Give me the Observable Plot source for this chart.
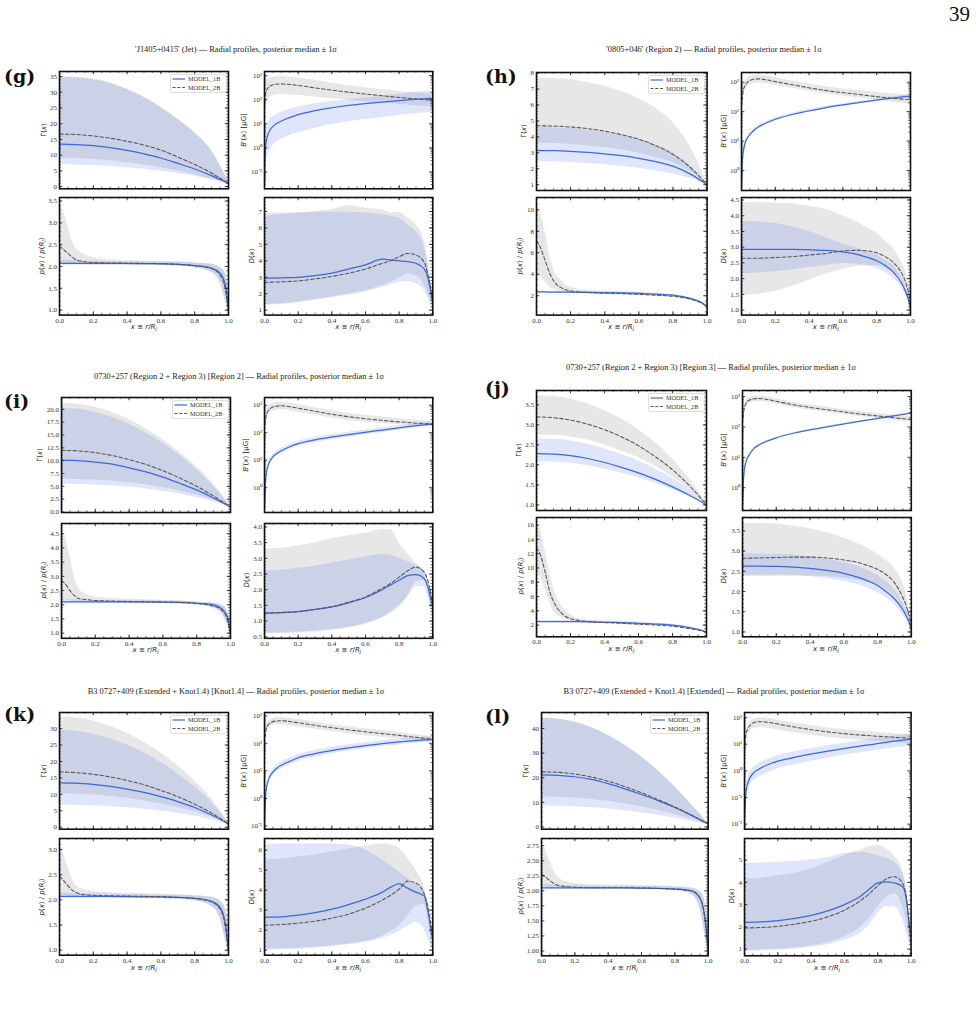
<!DOCTYPE html>
<html><head><meta charset="utf-8">
<script src="https://cdn.jsdelivr.net/npm/d3@7"></script>
<script src="https://cdn.jsdelivr.net/npm/@observablehq/plot@0.6"></script>
<style>
body{margin:0;background:#fff;}
#page{position:relative;width:976px;height:1013px;overflow:hidden;font-family:"Liberation Serif",serif;color:#222;}
.abs{position:absolute;white-space:nowrap;line-height:1;}
.title{font-size:8.4px;transform:translate(-50%,-50%);color:#222;}
.letter{font-family:"DejaVu Serif",serif;font-weight:bold;font-size:19px;transform:translate(0,-50%);color:#111;}
.ylab{font-family:"DejaVu Sans",sans-serif;font-size:7px;transform:translate(-50%,-50%) rotate(-90deg);color:#222;}
.xlab{font-family:"DejaVu Sans",sans-serif;font-size:7px;transform:translate(-50%,-50%);color:#222;}
sub{font-size:70%;vertical-align:-0.3em;line-height:0;}
.pagenum{font-size:21px;right:6px;top:4px;color:#111;}
</style></head>
<body><div id="page"></div>
<script>
// ---------- x grids ----------
const XG = [0,0.1,0.2,0.3,0.4,0.5,0.6,0.7,0.8,0.9,1.0];
const XB = [0,0.005,0.01,0.02,0.04,0.07,0.1,0.15,0.2,0.3,0.5,0.7,0.85,1.0];
const XP = [0,0.02,0.05,0.08,0.1,0.15,0.2,0.3,0.5,0.7,0.8,0.9,0.95,0.98,1.0];
const XD = [0,0.1,0.2,0.3,0.4,0.5,0.6,0.7,0.75,0.8,0.85,0.9,0.95,0.97,0.99,1.0];
const XTICKS = [0,0.2,0.4,0.6,0.8,1.0];
const SERIES = ["MODEL_1B","MODEL_2B"];

// ---------- (g) 'J1405+0415' (Jet) ----------
const g_G_1B = {med:[13.5,13.38,13.0,12.38,11.5,10.4,9.1,7.4,5.6,3.5,1.0], lo:[7.0,6.9,6.7,6.4,6.0,5.5,4.9,4.2,3.3,2.2,0.9], hi:[34.8,34.6,34.0,32.8,30.8,28.3,25.1,21.3,17.0,11.3,1.4]};
const g_G_2B = {med:[16.7,16.55,16.1,15.4,14.4,13.2,11.6,9.4,7.0,4.3,1.0], lo:[9.0,8.9,8.6,8.2,7.6,6.9,6.0,5.0,3.8,2.4,1.0], hi:[35.0,34.8,34.2,33.0,31.0,28.5,25.3,21.5,17.2,11.5,1.5]};
const g_B_1B = {med:[0.03,0.8,1.8,3.5,6.5,10,13,18,24,35,58,80,98,115], lo:[0.02,0.1,0.25,0.5,1.0,1.7,2.3,3.2,4.2,6.5,12,18,24,30], hi:[0.05,3,6,10,17,24,30,40,50,68,100,140,185,240]};
const g_B_2B = {med:[80,150,220,300,390,440,450,430,390,310,205,145,115,95], lo:[15,40,70,100,140,160,165,160,150,130,95,72,60,50], hi:[200,400,550,700,850,920,930,880,800,620,380,260,205,170]};
const g_P_1B = {med:[2.07,2.07,2.07,2.07,2.07,2.07,2.07,2.07,2.065,2.05,2.02,1.96,1.85,1.6,1.0], lo:[2.03,2.03,2.03,2.03,2.03,2.03,2.03,2.03,2.025,2.01,1.97,1.88,1.68,1.3,0.95], hi:[2.15,2.15,2.14,2.13,2.13,2.12,2.12,2.11,2.11,2.1,2.08,2.05,1.98,1.85,1.5]};
const g_P_2B = {med:[2.47,2.4,2.3,2.2,2.15,2.11,2.09,2.08,2.07,2.05,2.02,1.95,1.8,1.5,1.0], lo:[2.08,2.07,2.06,2.05,2.05,2.04,2.04,2.04,2.03,2.01,1.97,1.85,1.6,1.2,0.95], hi:[3.45,3.3,2.9,2.55,2.4,2.27,2.2,2.15,2.12,2.1,2.08,2.05,1.98,1.85,1.5]};
const g_D_1B = {med:[2.95,2.97,3.0,3.1,3.25,3.5,3.75,4.1,4.05,4.0,3.95,3.85,3.5,3.0,2.0,1.4], lo:[1.3,1.35,1.45,1.6,1.75,1.9,2.1,2.4,2.55,2.7,2.75,2.6,2.2,1.8,1.3,1.0], hi:[6.9,6.9,6.92,6.94,6.95,6.95,6.9,6.8,6.7,6.6,6.2,5.8,4.8,3.8,2.4,1.5]};
const g_D_2B = {med:[2.7,2.72,2.78,2.9,3.05,3.25,3.5,3.85,4.0,4.25,4.45,4.35,3.9,3.2,2.2,1.5], lo:[1.35,1.4,1.5,1.65,1.8,2.0,2.2,2.5,2.7,2.95,3.2,3.1,2.5,2.0,1.4,1.05], hi:[6.7,6.8,6.9,7.0,7.1,7.35,7.2,7.1,6.9,6.95,6.6,6.2,5.2,4.2,2.6,1.6]};

// ---------- (h) '0805+046' (Region 2) ----------
const h_G_1B = {med:[3.15,3.14,3.1,3.03,2.94,2.82,2.66,2.45,2.17,1.68,1.0], lo:[2.45,2.44,2.4,2.34,2.26,2.16,2.03,1.87,1.67,1.4,1.0], hi:[4.6,4.58,4.52,4.42,4.28,4.1,3.85,3.5,3.0,2.2,1.0]};
const h_G_2B = {med:[4.7,4.68,4.62,4.52,4.36,4.14,3.85,3.45,2.9,2.1,1.0], lo:[3.6,3.58,3.53,3.45,3.33,3.18,2.98,2.72,2.38,1.85,1.0], hi:[7.7,7.67,7.58,7.42,7.18,6.85,6.4,5.8,4.9,3.4,1.1]};
const h_B_1B = {med:[0.3,2,4,8,14,22,30,42,55,80,137,205,270,340], lo:[0.25,1.7,3.4,6.8,12,19,26,37,48,71,122,184,243,306], hi:[0.35,2.3,4.6,9.2,16,25,34,47,62,89,152,226,297,374]};
const h_B_2B = {med:[150,300,500,750,1050,1250,1300,1200,1050,820,520,380,300,255], lo:[100,200,340,520,760,900,950,880,780,620,400,290,225,175], hi:[220,450,700,1050,1450,1700,1750,1620,1420,1100,700,510,420,360]};
const h_P_1B = {med:[2.35,2.35,2.35,2.34,2.34,2.33,2.33,2.31,2.27,2.15,2.05,1.75,1.5,1.25,1.0], lo:[2.28,2.28,2.28,2.27,2.27,2.26,2.26,2.24,2.2,2.08,1.98,1.68,1.43,1.2,0.97], hi:[2.42,2.42,2.42,2.41,2.41,2.4,2.4,2.38,2.34,2.22,2.12,1.82,1.57,1.3,1.03]};
const h_P_2B = {med:[7.1,6.6,5.3,4.0,3.4,2.7,2.45,2.3,2.2,2.05,1.95,1.7,1.45,1.2,1.0], lo:[4.0,3.8,3.3,2.8,2.6,2.35,2.25,2.15,2.08,1.93,1.85,1.6,1.37,1.13,0.95], hi:[10.5,9.8,8.0,5.6,4.5,3.3,2.8,2.5,2.35,2.15,2.05,1.85,1.55,1.28,1.05]};
const h_D_1B = {med:[2.93,2.93,2.93,2.93,2.92,2.9,2.85,2.75,2.67,2.57,2.42,2.2,1.83,1.6,1.3,1.05], lo:[2.15,2.18,2.22,2.28,2.35,2.42,2.48,2.45,2.4,2.32,2.2,2.0,1.68,1.48,1.2,1.0], hi:[3.82,3.8,3.75,3.65,3.5,3.3,3.1,2.95,2.85,2.75,2.6,2.4,2.0,1.75,1.4,1.1]};
const h_D_2B = {med:[2.65,2.65,2.67,2.7,2.75,2.8,2.88,2.9,2.88,2.82,2.7,2.5,2.15,1.9,1.5,1.2], lo:[1.47,1.5,1.6,1.75,1.95,2.15,2.3,2.4,2.42,2.42,2.35,2.2,1.9,1.65,1.3,1.05], hi:[4.42,4.42,4.4,4.38,4.3,4.2,4.0,3.75,3.6,3.45,3.2,2.95,2.5,2.25,1.75,1.3]};

// ---------- (i) 0730+257 [Region 2] ----------
const i_G_1B = {med:[10.1,10.0,9.7,9.3,8.6,7.8,6.8,5.6,4.3,2.7,1.0], lo:[5.4,5.37,5.28,5.1,4.85,4.5,4.05,3.5,2.8,2.0,1.0], hi:[20.2,20.0,19.4,18.4,17.1,15.4,13.4,11.0,8.3,5.0,1.1]};
const i_G_2B = {med:[12.0,11.9,11.55,11.0,10.2,9.25,8.05,6.6,5.0,3.1,1.0], lo:[6.4,6.35,6.22,6.0,5.7,5.3,4.75,4.1,3.3,2.3,1.0], hi:[21.2,21.0,20.4,19.4,18.0,16.2,14.1,11.6,8.8,5.4,1.2]};
const i_B_1B = {med:[0.15,1.2,3,6,11,17,22,31,40,55,85,125,165,210], lo:[0.13,0.9,2.3,4.7,8.8,13.6,17.6,25,32,44,69,102,136,175], hi:[0.18,1.6,3.8,7.5,13.5,21,27,38,49,67,103,150,198,250]};
const i_B_2B = {med:[120,250,400,600,800,920,950,880,780,600,380,280,235,205], lo:[85,175,280,420,570,660,680,630,560,430,280,215,185,165], hi:[165,340,540,810,1080,1240,1280,1190,1050,810,510,370,305,260]};
const i_P_1B = {med:[2.1,2.1,2.1,2.1,2.1,2.1,2.1,2.1,2.1,2.08,2.05,2.0,1.85,1.6,1.0], lo:[2.05,2.05,2.05,2.05,2.05,2.05,2.05,2.05,2.05,2.03,2.0,1.92,1.7,1.35,0.95], hi:[2.22,2.2,2.18,2.17,2.16,2.15,2.15,2.14,2.14,2.12,2.1,2.06,1.98,1.8,1.4]};
const i_P_2B = {med:[2.85,2.75,2.5,2.3,2.22,2.18,2.15,2.13,2.1,2.08,2.05,1.95,1.8,1.5,1.0], lo:[2.2,2.18,2.15,2.12,2.1,2.08,2.07,2.06,2.05,2.03,1.99,1.87,1.65,1.3,0.95], hi:[4.65,4.4,3.7,2.9,2.6,2.35,2.28,2.22,2.18,2.14,2.1,2.05,1.97,1.8,1.4]};
const i_D_1B = {med:[1.25,1.27,1.3,1.37,1.45,1.58,1.75,2.0,2.15,2.3,2.45,2.48,2.35,2.1,1.65,1.4], lo:[0.6,0.6,0.62,0.65,0.7,0.78,0.9,1.1,1.25,1.45,1.75,2.1,2.1,1.8,1.3,1.1], hi:[2.6,2.62,2.68,2.75,2.85,2.95,3.05,3.12,3.1,3.0,2.9,2.75,2.5,2.2,1.6,1.3]};
const i_D_2B = {med:[1.25,1.27,1.3,1.37,1.46,1.6,1.77,2.05,2.2,2.4,2.6,2.72,2.55,2.3,1.8,1.45], lo:[0.62,0.63,0.65,0.68,0.73,0.8,0.92,1.12,1.3,1.5,1.8,2.25,2.3,2.0,1.4,1.15], hi:[3.3,3.32,3.4,3.5,3.62,3.72,3.8,3.92,3.9,3.5,3.15,2.85,2.6,2.3,1.7,1.4]};

// ---------- (j) 0730+257 [Region 3] ----------
const j_G_1B = {med:[2.28,2.27,2.23,2.16,2.06,1.94,1.8,1.64,1.45,1.24,1.0], lo:[2.08,2.07,2.04,1.98,1.9,1.8,1.68,1.54,1.38,1.2,1.0], hi:[2.65,2.64,2.6,2.52,2.4,2.26,2.1,1.9,1.66,1.38,1.02]};
const j_G_2B = {med:[3.2,3.18,3.12,3.02,2.88,2.7,2.48,2.2,1.88,1.48,1.0], lo:[2.75,2.74,2.7,2.62,2.5,2.35,2.18,1.96,1.7,1.38,1.0], hi:[3.73,3.71,3.65,3.53,3.36,3.15,2.88,2.55,2.15,1.65,1.05]};
const j_B_1B = {med:[0.2,1.5,3.5,7,12,20,26,35,44,62,100,155,210,285], lo:[0.19,1.4,3.3,6.6,11.4,19,24.7,33,42,59,95,147,200,271], hi:[0.21,1.6,3.7,7.4,12.6,21,27.3,37,46,65,105,163,220,299]};
const j_B_2B = {med:[130,250,400,580,760,850,860,800,700,540,370,265,215,175], lo:[105,200,320,465,610,680,690,640,560,435,300,215,175,140], hi:[160,300,480,700,910,1020,1030,960,840,650,445,320,260,215]};
const j_P_1B = {med:[2.5,2.5,2.5,2.5,2.5,2.49,2.48,2.45,2.35,2.15,2.0,1.65,1.4,1.2,1.0], lo:[2.35,2.35,2.35,2.35,2.35,2.34,2.33,2.3,2.2,2.02,1.88,1.55,1.32,1.13,0.95], hi:[2.65,2.65,2.65,2.65,2.65,2.64,2.63,2.6,2.5,2.28,2.12,1.75,1.48,1.27,1.05]};
const j_P_2B = {med:[12.8,12.0,9.5,6.5,5.3,3.6,2.9,2.5,2.25,2.0,1.85,1.5,1.3,1.15,1.0], lo:[9.5,8.8,7.0,5.0,4.0,3.0,2.6,2.35,2.15,1.93,1.78,1.45,1.25,1.1,0.95], hi:[16.5,15.5,12.5,9.0,7.2,4.6,3.4,2.7,2.35,2.1,1.95,1.6,1.38,1.2,1.05]};
const j_D_1B = {med:[2.63,2.63,2.62,2.6,2.57,2.52,2.45,2.33,2.25,2.15,2.0,1.82,1.55,1.4,1.2,1.05], lo:[2.4,2.41,2.41,2.4,2.37,2.32,2.25,2.15,2.07,1.97,1.85,1.68,1.42,1.3,1.1,1.0], hi:[2.93,2.93,2.92,2.9,2.86,2.8,2.72,2.6,2.5,2.4,2.25,2.05,1.72,1.55,1.3,1.1]};
const j_D_2B = {med:[2.82,2.83,2.84,2.85,2.85,2.83,2.78,2.7,2.63,2.55,2.42,2.22,1.85,1.65,1.35,1.15], lo:[2.37,2.37,2.38,2.38,2.38,2.37,2.33,2.27,2.22,2.15,2.05,1.9,1.6,1.45,1.2,1.05], hi:[3.68,3.68,3.67,3.62,3.55,3.45,3.32,3.15,3.05,2.92,2.78,2.58,2.2,1.95,1.5,1.25]};

// ---------- (k) B3 0727+409 [Knot1.4] ----------
const k_G_1B = {med:[13.5,13.4,13.0,12.4,11.6,10.6,9.3,7.8,6.0,3.7,1.0], lo:[6.7,6.65,6.5,6.25,5.9,5.45,4.9,4.2,3.4,2.3,0.9], hi:[29.5,29.2,28.3,26.9,25.0,22.6,19.7,16.3,12.3,7.5,1.3]};
const k_G_2B = {med:[16.8,16.6,16.1,15.3,14.2,12.9,11.2,9.3,7.0,4.3,1.0], lo:[10.2,10.1,9.8,9.4,8.8,8.0,7.1,6.0,4.7,3.1,1.0], hi:[33.5,33.2,32.3,30.7,28.6,25.9,22.6,18.7,14.1,8.6,1.5]};
const k_B_1B = {med:[0.08,0.8,2,4,7.5,12,16,22,30,42,68,98,120,140], lo:[0.06,0.6,1.5,3,5.6,9,12,16.5,22.5,32,52,76,95,112], hi:[0.1,1.05,2.6,5.2,9.8,15.6,21,29,39,55,88,125,152,175]};
const k_B_2B = {med:[100,200,320,450,580,650,660,620,560,450,310,225,180,140], lo:[70,145,230,325,420,470,475,445,400,325,225,165,135,110], hi:[130,260,420,590,755,845,860,805,730,585,400,290,225,175]};
const k_P_1B = {med:[2.07,2.07,2.07,2.07,2.07,2.07,2.07,2.07,2.06,2.05,2.03,1.97,1.85,1.55,1.0], lo:[2.03,2.03,2.03,2.03,2.03,2.03,2.03,2.03,2.02,2.01,1.98,1.88,1.65,1.25,0.95], hi:[2.15,2.14,2.13,2.12,2.12,2.12,2.12,2.11,2.1,2.09,2.08,2.05,1.98,1.82,1.45]};
const k_P_2B = {med:[2.47,2.4,2.28,2.18,2.14,2.1,2.09,2.08,2.07,2.05,2.03,1.96,1.82,1.5,1.0], lo:[2.1,2.09,2.07,2.06,2.05,2.05,2.05,2.04,2.03,2.01,1.98,1.87,1.62,1.2,0.95], hi:[3.1,2.95,2.65,2.38,2.28,2.2,2.17,2.14,2.12,2.1,2.08,2.05,1.98,1.85,1.5]};
const k_D_1B = {med:[2.65,2.67,2.75,2.88,3.05,3.28,3.55,3.9,4.15,4.33,4.1,3.9,3.7,3.0,2.0,1.5], lo:[1.0,1.02,1.05,1.1,1.17,1.27,1.4,1.6,1.75,1.95,2.2,2.4,2.0,1.6,1.2,1.0], hi:[6.28,6.3,6.3,6.3,6.3,6.25,6.0,5.5,5.2,4.9,4.6,4.3,3.9,3.2,2.0,1.5]};
const k_D_2B = {med:[2.25,2.28,2.35,2.45,2.6,2.8,3.1,3.5,3.75,4.05,4.45,4.35,3.8,3.2,2.2,1.5], lo:[1.05,1.07,1.1,1.15,1.22,1.32,1.45,1.7,1.95,2.2,2.7,3.2,3.3,2.6,1.5,1.05], hi:[5.5,5.55,5.65,5.75,5.9,6.05,6.2,6.3,6.25,6.1,5.6,5.0,4.1,3.3,2.1,1.55]};

// ---------- (l) B3 0727+409 [Extended] ----------
const l_G_1B = {med:[21.2,21.0,20.4,19.3,17.6,15.5,13.2,10.7,7.9,4.7,1.2], lo:[8.5,8.4,8.2,7.8,7.3,6.6,5.8,4.8,3.6,2.3,0.8], hi:[44.2,43.8,42.5,40.3,37.2,33.2,28.4,22.7,16.2,9.0,1.5]};
const l_G_2B = {med:[22.4,22.2,21.5,20.3,18.6,16.4,13.9,11.1,8.1,4.8,1.2], lo:[12.2,12.1,11.8,11.2,10.4,9.4,8.2,6.8,5.1,3.2,1.0], hi:[44.3,43.9,42.6,40.4,37.3,33.3,28.5,22.8,16.3,9.1,1.5]};
const l_B_1B = {med:[0.008,0.07,0.18,0.35,0.65,1.0,1.3,1.8,2.3,3.2,5.5,8.6,11.8,15.5], lo:[0.006,0.035,0.09,0.18,0.33,0.5,0.65,0.9,1.2,1.7,3.0,4.8,6.6,8.5], hi:[0.012,0.12,0.3,0.55,1.05,1.6,2.1,2.9,3.7,5.2,8.8,13.5,18.5,24]};
const l_B_2B = {med:[6,15,25,38,55,68,70,65,57,44,29,22,19,16.5], lo:[3.5,9,15,23,33,41,42,39,34,27,18,14,12,10.5], hi:[8.5,21,35,53,77,95,98,91,80,62,41,31,26,23]};
const l_P_1B = {med:[2.05,2.05,2.05,2.05,2.05,2.05,2.05,2.05,2.05,2.04,2.03,2.0,1.88,1.55,1.0], lo:[2.03,2.03,2.03,2.03,2.03,2.03,2.03,2.03,2.03,2.02,2.0,1.93,1.7,1.25,0.95], hi:[2.1,2.1,2.1,2.09,2.09,2.09,2.09,2.08,2.08,2.07,2.06,2.04,1.98,1.8,1.4]};
const l_P_2B = {med:[2.27,2.24,2.17,2.11,2.09,2.07,2.06,2.05,2.05,2.04,2.03,2.0,1.88,1.55,1.0], lo:[2.08,2.07,2.06,2.05,2.05,2.04,2.04,2.04,2.04,2.03,2.01,1.95,1.72,1.3,0.95], hi:[2.78,2.7,2.5,2.3,2.22,2.15,2.12,2.1,2.09,2.08,2.07,2.05,2.0,1.85,1.45]};
const l_D_1B = {med:[2.2,2.22,2.28,2.38,2.52,2.72,3.0,3.4,3.7,3.98,4.02,3.97,3.8,3.3,2.0,1.3], lo:[0.9,0.92,0.95,1.0,1.08,1.2,1.4,1.75,2.1,2.6,2.9,2.9,2.3,1.8,1.3,1.0], hi:[4.85,4.87,4.9,4.95,5.0,5.1,5.3,5.35,5.3,5.2,5.1,4.9,4.4,3.8,2.5,1.5]};
const l_D_2B = {med:[1.95,1.97,2.02,2.12,2.25,2.45,2.75,3.2,3.5,3.85,4.15,4.25,3.95,3.4,2.0,1.3], lo:[0.95,0.97,1.0,1.06,1.15,1.3,1.55,2.0,2.4,2.9,3.3,3.5,2.9,2.3,1.5,1.05], hi:[4.15,4.2,4.3,4.4,4.6,4.9,5.2,5.45,5.6,5.65,5.5,5.2,4.5,3.8,2.5,1.5]};

// ---------- tick label values ----------
const g_ticks = {G:[0,5,10,15,20,25,30,35], B:[-1,0,1,2,3], P:[1.0,1.5,2.0,2.5,3.0,3.5], D:[1,2,3,4,5,6,7]};
const h_ticks = {G:[1,2,3,4,5,6,7,8], B:[0,1,2,3], P:[2,4,6,8,10], D:[1.0,1.5,2.0,2.5,3.0,3.5,4.0,4.5]};
const i_ticks = {G:[0,2.5,5,7.5,10,12.5,15,17.5,20], B:[0,1,2,3], P:[1.0,1.5,2.0,2.5,3.0,3.5,4.0,4.5], D:[0.5,1.0,1.5,2.0,2.5,3.0,3.5,4.0]};
const j_ticks = {G:[1.0,1.5,2.0,2.5,3.0,3.5], B:[0,1,2,3], P:[2,4,6,8,10,12,14,16], D:[1.0,1.5,2.0,2.5,3.0,3.5]};
const k_ticks = {G:[0,5,10,15,20,25,30], B:[-1,0,1,2,3], P:[1.0,1.5,2.0,2.5,3.0], D:[1,2,3,4,5,6]};
const l_ticks = {G:[0,10,20,30,40], B:[-2,-1,0,1,2], P:[1.0,1.25,1.5,1.75,2.0,2.25,2.5,2.75], D:[1,2,3,4,5]};

const TITLE_TAIL = " — Radial profiles, posterior median ± 1σ";
const panels = [
  {id:"g", title:"'J1405+0415' (Jet)", tx:236, ty:50, lx:4, ly:76, cx:[59.3,264], cw:[169,168.3], ry:[71,196.7], rh:[117.3,117.6],
   G:[g_G_1B,g_G_2B,[-0.7,36.6],1,0], B:[g_B_1B,g_B_2B,[-1.7,3.17]], P:[g_P_1B,g_P_2B,[0.886,3.58],0.1,1], D:[g_D_1B,g_D_2B,[0.7,7.85],0.2,0], t:g_ticks},
  {id:"h", title:"'0805+046' (Region 2)", tx:714, ty:50, lx:485, ly:76, cx:[535.7,741.3], cw:[170.6,169], ry:[72,196.7], rh:[118,117.6],
   G:[h_G_1B,h_G_2B,[0.64,8.04],0.2,0], B:[h_B_1B,h_B_2B,[-0.68,3.33]], P:[h_P_1B,h_P_2B,[0.2,11.14],0.5,0], D:[h_D_1B,h_D_2B,[0.84,4.58],0.1,1], t:h_ticks},
  {id:"i", title:"0730+257 (Region 2 + Region 3) [Region 2]", tx:239, ty:376.7, lx:4, ly:401, cx:[61,264], cw:[169,168.3], ry:[397.3,522.5], rh:[115,114.8],
   G:[i_G_1B,i_G_2B,[-0.1,22.3],0.5,1], B:[i_B_1B,i_B_2B,[-0.9,3.28]], P:[i_P_1B,i_P_2B,[0.82,4.86],0.1,1], D:[i_D_1B,i_D_2B,[0.45,4.11],0.1,1], t:i_ticks},
  {id:"j", title:"0730+257 (Region 2 + Region 3) [Region 3]", tx:711, ty:368.3, lx:485, ly:388, cx:[536.3,741.5], cw:[170,168.8], ry:[390,516.7], rh:[120,119.3],
   G:[j_G_1B,j_G_2B,[0.86,3.86],0.1,1], B:[j_B_1B,j_B_2B,[-0.75,3.2]], P:[j_P_1B,j_P_2B,[0.36,17.06],0.5,0], D:[j_D_1B,j_D_2B,[0.88,3.83],0.1,1], t:j_ticks},
  {id:"k", title:"B3 0727+409 (Extended + Knot1.4) [Knot1.4]", tx:236, ty:691.7, lx:4, ly:714, cx:[59.3,264], cw:[169,168.3], ry:[712.3,838.3], rh:[116.7,116.7],
   G:[k_G_1B,k_G_2B,[-0.6,34.9],1,0], B:[k_B_1B,k_B_2B,[-1.12,3.12]], P:[k_P_1B,k_P_2B,[0.9,3.22],0.1,1], D:[k_D_1B,k_D_2B,[0.75,6.58],0.2,0], t:k_ticks},
  {id:"l", title:"B3 0727+409 (Extended + Knot1.4) [Extended]", tx:714, ty:691.7, lx:485, ly:716, cx:[541.3,743.7], cw:[166.7,166.6], ry:[712.3,837.7], rh:[116.7,117.3],
   G:[l_G_1B,l_G_2B,[-0.9,46.5],2,0], B:[l_B_1B,l_B_2B,[-2.19,2.19]], P:[l_P_1B,l_P_2B,[0.92,2.87],0.05,2], D:[l_D_1B,l_D_2B,[0.7,5.97],0.2,0], t:l_ticks}
];

// ---------- rendering ----------
const page = document.getElementById("page");
const ctx = document.createElement("canvas").getContext("2d");
ctx.font = "7px 'Liberation Serif'";
const SUP = {"-":"⁻","0":"⁰","1":"¹","2":"²","3":"³","4":"⁴","5":"⁵","6":"⁶","7":"⁷","8":"⁸","9":"⁹"};
const supFmt = d => "10" + String(Math.round(Math.log10(d))).split("").map(c => SUP[c]).join("");
const mL = 34, mR = 6, mT = 6;

function addDiv(cls, html, x, y, style) {
  const d = document.createElement("div");
  d.className = "abs " + cls; d.innerHTML = html;
  if (x != null) d.style.left = x + "px";
  if (y != null) d.style.top = y + "px";
  if (style) d.style.cssText += style;
  page.appendChild(d); return d;
}

function linMinor(dom, step) {
  const out = []; const a = Math.ceil(dom[0] / step - 1e-9), b = Math.floor(dom[1] / step + 1e-9);
  for (let i = a; i <= b; i++) out.push(Math.round(i * step * 1e6) / 1e6);
  return out;
}
function logMinor(dom) {
  const out = [];
  for (let e = Math.floor(Math.log10(dom[0])); e <= Math.ceil(Math.log10(dom[1])); e++)
    for (let m = 2; m <= 9; m++) { const v = m * 10 ** e; if (v > dom[0] && v < dom[1]) out.push(v); }
  return out;
}

function sub({x0, y0, w, h, s1, s2, X, log, dom, ticks, minor, digits, bottom, ylab}) {
  const mB = bottom ? 16 : 6;
  const rows = s => X.map((x, i) => ({x, med: s.med[i], lo: s.lo[i], hi: s.hi[i]}));
  const r1 = rows(s1), r2 = rows(s2);
  const yDom = log ? [10 ** dom[0], 10 ** dom[1]] : dom;
  const yT = log ? ticks.map(e => 10 ** e) : ticks;
  const yMin = log ? logMinor(yDom) : linMinor(yDom, minor);
  const fmt = log ? supFmt : (d => d.toFixed(digits));
  const xMin = linMinor([0, 1], 0.05);
  const st = {stroke: "#111"};
  const tx = (vals, len, sw) => [
    Plot.ruleX(vals, {x: d => d, insetTop: h - len, strokeWidth: sw, ...st}),
    Plot.ruleX(vals, {x: d => d, insetBottom: h - len, strokeWidth: sw, ...st})];
  const ty = (vals, len, sw) => [
    Plot.ruleY(vals, {y: d => d, insetRight: w - len, strokeWidth: sw, ...st}),
    Plot.ruleY(vals, {y: d => d, insetLeft: w - len, strokeWidth: sw, ...st})];
  const svg = Plot.plot({
    width: w + mL + mR, height: h + mT + mB,
    marginLeft: mL, marginRight: mR, marginTop: mT, marginBottom: mB,
    x: {domain: [0, 1], axis: null},
    y: {type: log ? "log" : "linear", domain: yDom, axis: null},
    style: "background:transparent;overflow:visible;font-family:'Liberation Serif',serif;color:#333;position:absolute;left:" + (x0 - mL) + "px;top:" + (y0 - mT) + "px;max-width:none;",
    marks: [
      Plot.areaY(r2, {x: "x", y1: "lo", y2: "hi", curve: "monotone-x", fill: "#808080", fillOpacity: 0.19, clip: true}),
      Plot.areaY(r1, {x: "x", y1: "lo", y2: "hi", curve: "monotone-x", fill: "#3f66e0", fillOpacity: 0.17, clip: true}),
      Plot.line(r1, {x: "x", y: "med", curve: "monotone-x", stroke: "#3b68e3", strokeWidth: 1.25, clip: true}),
      Plot.line(r2, {x: "x", y: "med", curve: "monotone-x", stroke: "#555", strokeWidth: 1.05, strokeDasharray: "3.6,2.2", clip: true}),
      ...tx(xMin, 1.8, 0.6), ...tx(XTICKS, 3.3, 0.8),
      ...ty(yMin, 1.8, 0.6), ...ty(yT, 3.3, 0.8),
      Plot.axisY(yT, {tickSize: 0, tickPadding: 2.5, tickFormat: fmt, fontSize: 7, label: null}),
      bottom ? Plot.axisX(XTICKS, {tickSize: 0, tickPadding: 2.5, tickFormat: d => d.toFixed(1), fontSize: 7, label: null}) : null,
      Plot.frame({stroke: "#111", strokeWidth: 1.6})
    ]
  });
  page.appendChild(svg);
  const tw = Math.max(...yT.map(d => ctx.measureText(fmt(d)).width));
  addDiv("ylab", ylab, x0 - tw - 2.5 - 6, y0 + h / 2);
  if (bottom) addDiv("xlab", "<i>x</i> ≡ <i>r</i>/<i>R</i><sub><i>j</i></sub>", x0 + w / 2, y0 + h + 13);
}

function legend(xr, yt) {
  const W = 57, H = 19;
  const ns = "http://www.w3.org/2000/svg";
  const s = document.createElementNS(ns, "svg");
  s.setAttribute("width", W); s.setAttribute("height", H);
  s.style.cssText = `position:absolute;left:${xr - W}px;top:${yt}px;overflow:visible;`;
  s.innerHTML = `<rect x="0.5" y="0.5" width="${W-1}" height="${H-1}" rx="1.5" fill="white" fill-opacity="0.85" stroke="#d0d0d0" stroke-width="0.7"/>` +
    `<line x1="2.5" x2="15" y1="5" y2="5" stroke="#3b68e3" stroke-width="1.2"/>` +
    `<line x1="2.5" x2="15" y1="13.5" y2="13.5" stroke="#555" stroke-width="1" stroke-dasharray="3,1.8"/>` +
    `<text x="18" y="7.2" font-family="Liberation Serif" font-size="6.2" fill="#333">${SERIES[0]}</text>` +
    `<text x="18" y="15.7" font-family="Liberation Serif" font-size="6.2" fill="#333">${SERIES[1]}</text>`;
  page.appendChild(s);
}

addDiv("pagenum", "39");
const YL = {
  G: "Γ(<i>x</i>)",
  B: "<i>B</i>′(<i>x</i>) [μG]",
  P: "<i>p</i>(<i>x</i>) / <i>p</i>(<i>R</i><sub><i>j</i></sub>)",
  D: "<i>D</i>(<i>x</i>)"
};
for (const p of panels) {
  addDiv("title", p.title + TITLE_TAIL, p.tx, p.ty);
  addDiv("letter", "(" + p.id + ")", p.lx, p.ly);
  const cfg = [["G", 0, 0, XG, false], ["B", 1, 0, XB, true], ["P", 0, 1, XP, false], ["D", 1, 1, XD, false]];
  for (const [key, c, r, X, log] of cfg) {
    const spec = p[key];
    sub({x0: p.cx[c], y0: p.ry[r], w: p.cw[c], h: p.rh[r], s1: spec[0], s2: spec[1], X, log,
         dom: spec[2], ticks: p.t[key], minor: spec[3], digits: spec[4], bottom: r === 1, ylab: YL[key]});
  }
  legend(p.cx[0] + p.cw[0] - 1.3, p.ry[0] + 2.8);
}
</script>
</body></html>
